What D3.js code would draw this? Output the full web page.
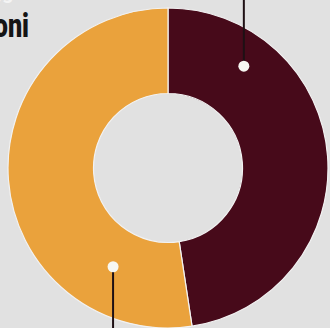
<!DOCTYPE html>
<html><head><meta charset="utf-8">
<script src="https://cdn.jsdelivr.net/npm/d3@7"></script>
<style>html,body{margin:0;padding:0;background:#e1e1e1;overflow:hidden}</style>
</head><body>
<svg id="c" width="330" height="328"></svg>
<script>
const categories = ["Sì", "No"];
const values = [47.6, 52.4];
const colors = ["#470a1a", "#eaa23c"];
const titleText = "Elezioni";
const subtitleText = "Sondaggio";

const svg = d3.select("#c");
const W = 330, H = 328;
svg.append("rect").attr("width", W).attr("height", H).attr("fill", "#e1e1e1");

const cx = 168, cy = 168, rOuter = 160, rInner = 74.5;
const pie = d3.pie().sort(null).value(d => d.v);
const data = pie(categories.map((c, i) => ({c, v: values[i], col: colors[i]})));
const arc = d3.arc().innerRadius(rInner).outerRadius(rOuter);
const g = svg.append("g").attr("transform", `translate(${cx},${cy})`);
g.selectAll("path").data(data).join("path")
  .attr("d", arc).attr("fill", d => d.data.col)
  .attr("stroke", "#f2f2f2").attr("stroke-width", 1.2);

// leader lines + dots (position within slice: fraction of angle, radius)
const dotFrac = [0.214, 0.2];
const dotRadius = [127, 113];
data.forEach((d, i) => {
  const a = d.startAngle + (d.endAngle - d.startAngle) * dotFrac[i];
  const x = Math.sin(a) * dotRadius[i], y = -Math.cos(a) * dotRadius[i];
  const yEnd = i === 0 ? -cy - 5 : H - cy + 5;
  g.append("line").attr("x1", x).attr("y1", y).attr("x2", x).attr("y2", yEnd)
    .attr("stroke", "#1e1014").attr("stroke-width", 2);
  g.append("circle").attr("cx", x).attr("cy", y).attr("r", 5.5)
    .attr("fill", "#f7f7f2");
});

// title texts (partly cut off)
svg.append("text").attr("x", 30).attr("y", -1).attr("text-anchor", "end")
  .attr("font-family", "Roboto, sans-serif").attr("font-size", 20)
  .attr("fill", "#f4f4f4").attr("font-weight", 700).text(subtitleText);
svg.append("text").attr("transform", "translate(29,37) scale(0.74,1)")
  .attr("text-anchor", "end")
  .attr("font-family", "Roboto, sans-serif").attr("font-size", 34)
  .attr("font-weight", 900).attr("fill", "#141414").text(titleText);
</script>
</body></html>
